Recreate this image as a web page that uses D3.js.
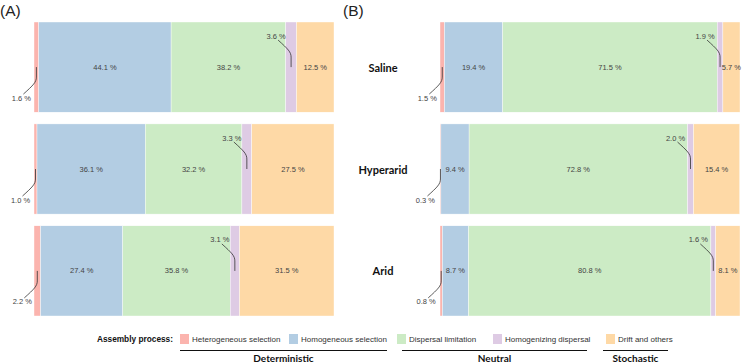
<!DOCTYPE html>
<html><head><meta charset="utf-8">
<script src="https://cdn.jsdelivr.net/npm/d3@7"></script>
<style>body{margin:0;background:#fff}svg{display:block}</style>
</head><body>
<svg id="chart" width="742" height="363"></svg>
<script>
const sites = ["Saline", "Hyperarid", "Arid"];
const processes = ["Heterogeneous selection", "Homogeneous selection", "Dispersal limitation", "Homogenizing dispersal", "Drift and others"];
const colors = ["#FBB4AE", "#B3CDE3", "#CCEBC5", "#DECBE4", "#FED9A6"];
// rows: Saline, Hyperarid, Arid ; columns: processes
const valuesA = [
  [1.6, 44.1, 38.2, 3.6, 12.5],
  [1.0, 36.1, 32.2, 3.3, 27.5],
  [2.2, 27.4, 35.8, 3.1, 31.5]
];
const valuesB = [
  [1.5, 19.4, 71.5, 1.9, 5.7],
  [0.3, 9.4, 72.8, 2.0, 15.4],
  [0.8, 8.7, 80.8, 1.6, 8.1]
];
const groups = ["Deterministic", "Neutral", "Stochastic"];
const panelTags = ["(A)", "(B)"];

const svg = d3.select("#chart");
const y = d3.scaleBand().domain(sites).range([22, 316]).paddingInner(0.115).paddingOuter(0);
const labelFont = "Liberation Sans, Arial, sans-serif";

function drawPanel(values, x0, x1) {
  const x = d3.scaleLinear().domain([0, 100]).range([x0, x1]);
  const g = svg.append("g");
  sites.forEach((site, i) => {
    const row = values[i];
    const cum = d3.cumsum(row);
    const segs = row.map((v, j) => ({v, j, start: j === 0 ? 0 : cum[j - 1], end: cum[j]}));
    const yc = y(site) + y.bandwidth() / 2;
    g.selectAll(null).data(segs).join("rect")
      .attr("x", d => x(d.start))
      .attr("width", d => Math.max(0, x(Math.min(100, d.end)) - x(d.start)))
      .attr("y", y(site))
      .attr("height", y.bandwidth())
      .attr("fill", d => colors[d.j])
      .attr("stroke", "#fff").attr("stroke-width", 0.4);
    segs.forEach(d => {
      const xc = x((d.start + Math.min(100, d.end)) / 2);
      const label = d.v.toFixed(1) + " %";
      if (d.j === 0 || d.j === 3) {
        const s = d.j === 0 ? 1 : -1;
        g.append("path")
          .attr("d", `M${xc},${yc} V${yc + s * 10} C${xc},${yc + s * 15} ${xc - 3},${yc + s * 18} ${xc - 13},${yc + s * 27}`)
          .attr("fill", "none").attr("stroke", "#333").attr("stroke-width", 0.8);
        g.append("text").attr("x", xc - 15).attr("y", yc + s * 31)
          .attr("text-anchor", "middle").attr("dominant-baseline", "central")
          .attr("font-family", labelFont).attr("font-size", 7.5).attr("fill", "#444")
          .text(label);
      } else {
        g.append("text").attr("x", xc).attr("y", yc)
          .attr("text-anchor", "middle").attr("dominant-baseline", "central")
          .attr("font-family", labelFont).attr("font-size", 7.5).attr("fill", "#444")
          .text(label);
      }
    });
  });
}
drawPanel(valuesA, 34, 334);
drawPanel(valuesB, 440, 740);

// site labels
svg.selectAll(".site").data(sites).join("text")
  .attr("x", 383).attr("y", d => y(d) + y.bandwidth() / 2)
  .attr("text-anchor", "middle").attr("dominant-baseline", "central")
  .attr("font-family", "Lato, sans-serif").attr("font-weight", 700).attr("font-size", 11)
  .attr("fill", "#111").text(d => d);

// panel tags
svg.selectAll(".tag").data(panelTags).join("text")
  .attr("x", (d, i) => i === 0 ? 0 : 343).attr("y", 16)
  .attr("font-family", labelFont).attr("font-size", 15.5).attr("fill", "#222").text(d => d);

// legend
const legY = 339;
svg.append("text").attr("x", 173).attr("y", legY).attr("text-anchor", "end")
  .attr("dominant-baseline", "central").attr("font-family", labelFont)
  .attr("font-weight", 700).attr("font-size", 8.3).attr("fill", "#111").text("Assembly process:");
const legX = [180, 289, 397, 493, 606];
const leg = svg.selectAll(".leg").data(processes).join("g")
  .attr("transform", (d, i) => `translate(${legX[i]},${legY})`);
leg.append("rect").attr("x", 0).attr("y", -5).attr("width", 9).attr("height", 10)
  .attr("fill", (d, i) => colors[i]);
leg.append("text").attr("x", 12).attr("y", 0).attr("dominant-baseline", "central")
  .attr("font-family", labelFont).attr("font-size", 8).attr("fill", "#333").text(d => d);

// group brackets
const groupSpan = [[180, 387], [402, 587], [603, 668]];
groups.forEach((gname, i) => {
  const [a, b] = groupSpan[i];
  svg.append("line").attr("x1", a).attr("x2", b).attr("y1", 350.5).attr("y2", 350.5)
    .attr("stroke", "#111").attr("stroke-width", 1);
  svg.append("text").attr("x", (a + b) / 2).attr("y", 362)
    .attr("text-anchor", "middle").attr("font-family", "Lato, sans-serif")
    .attr("font-weight", 700).attr("font-size", 10).attr("fill", "#111").text(gname);
});
</script>
</body></html>
